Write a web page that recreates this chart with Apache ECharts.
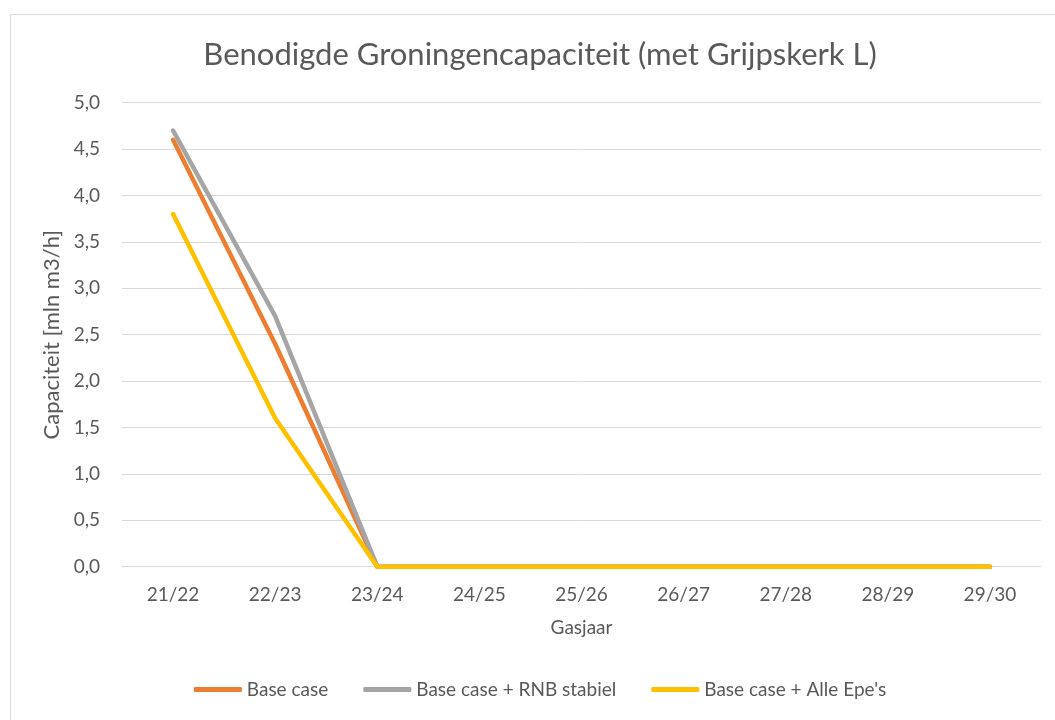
<!DOCTYPE html>
<html>
<head>
<meta charset="utf-8">
<script src="https://cdn.jsdelivr.net/npm/echarts@6/dist/echarts.min.js"></script>
<style>
html,body{margin:0;padding:0;background:#fff;overflow:hidden;}
#c{width:1080px;height:720px;}
</style>
</head>
<body>
<div id="c"></div>
<script>
const categories = ['21/22','22/23','23/24','24/25','25/26','26/27','27/28','28/29','29/30'];
const baseCase = [4.6, 2.4, 0, 0, 0, 0, 0, 0, 0];
const rnbStabiel = [4.7, 2.7, 0, 0, 0, 0, 0, 0, 0];
const alleEpes = [3.8, 1.6, 0, 0, 0, 0, 0, 0, 0];
const seriesNames = ['Base case', 'Base case + RNB stabiel', "Base case + Alle Epe's"];

const FONT = 'Lato';
const TXT = '#595959';
const chart = echarts.init(document.getElementById('c'), null, {renderer:'canvas'});
function mk(name, data, color){
  return {name:name, type:'line', data:data, symbol:'none', smooth:false,
    lineStyle:{color:color, width:4.5, cap:'round', join:'round'}, itemStyle:{color:color}};
}
chart.setOption({
  animation:false,
  backgroundColor:'#fff',
  graphic:[{type:'rect', shape:{x:10.5, y:14.5, width:1100, height:800},
    style:{fill:'none', stroke:'#D9D9D9', lineWidth:1}, silent:true}],
  title:{text:'Benodigde Groningencapaciteit (met Grijpskerk L)', left:'center', top:34,
    textStyle:{fontFamily:FONT, fontSize:31, fontWeight:'normal', color:TXT}},
  grid:{left:122, right:39, top:102.7, bottom:153.3, containLabel:false},
  legend:{bottom:16, left:'center', itemWidth:48, itemHeight:5, itemGap:35,
    icon:'roundRect',
    textStyle:{fontFamily:FONT, fontSize:19, color:TXT},
    data:seriesNames},
  xAxis:{type:'category', data:categories, boundaryGap:true,
    name:'Gasjaar', nameLocation:'middle', nameGap:52,
    nameTextStyle:{fontFamily:FONT, fontSize:19, color:TXT},
    axisLine:{lineStyle:{color:'#D9D9D9', width:1}},
    axisTick:{show:false},
    axisLabel:{fontFamily:FONT, fontSize:19, color:TXT, margin:19}},
  yAxis:{type:'value', min:0, max:5, interval:0.5,
    name:'Capaciteit [mln m3/h]', nameLocation:'middle', nameGap:59,
    nameTextStyle:{fontFamily:FONT, fontSize:22, color:TXT},
    axisLine:{show:false}, axisTick:{show:false},
    splitLine:{lineStyle:{color:'#D9D9D9', width:1}},
    axisLabel:{fontFamily:FONT, fontSize:19, color:TXT, margin:22,
      formatter:function(v){return v.toFixed(1).replace('.', ',');}}},
  series:[mk(seriesNames[0], baseCase, '#ED7D31'), mk(seriesNames[1], rnbStabiel, '#A5A5A5'), mk(seriesNames[2], alleEpes, '#FFC000')]
});
</script>
</body>
</html>
